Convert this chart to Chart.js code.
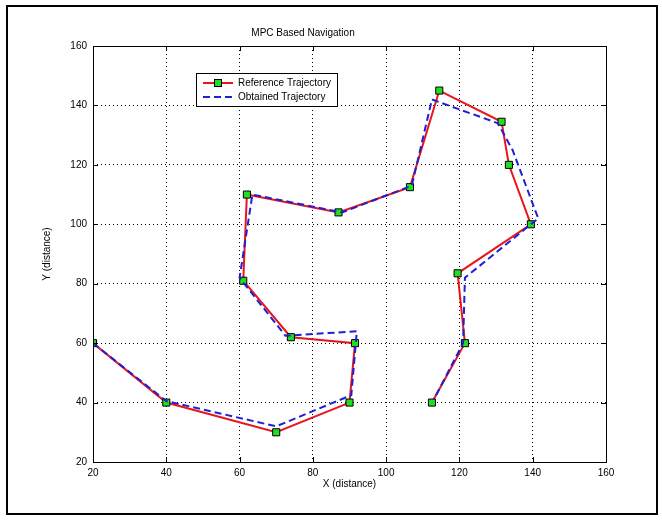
<!DOCTYPE html>
<html>
<head>
<meta charset="utf-8">
<script src="https://cdn.jsdelivr.net/npm/chart.js@4"></script>
<style>
  html, body { margin: 0; padding: 0; background: #fff; }
</style>
</head>
<body>
<canvas id="chart" width="662" height="520"></canvas>
<script>
// reference trajectory (waypoints)
const refX = [20, 40, 70, 90, 91.5, 74, 61, 62, 87, 106.5, 114.5, 131.5, 133.5, 139.5, 119.5, 121.5, 112.5];
const refY = [60, 40, 30, 40, 60, 62, 81, 110, 104, 112.5, 145, 134.5, 120, 100, 83.5, 60, 40];

// obtained trajectory
const obtX = [20, 40, 70, 90.5, 92, 72.5, 60, 63.5, 88, 107, 112.5, 130.5, 134.5, 141.5, 121.5, 121, 113];
const obtY = [60, 40.5, 32, 42.5, 64, 62.5, 82, 110, 104, 113, 142, 134, 125, 102, 82, 60, 41];

const xTicks = [20, 40, 60, 80, 100, 120, 140, 160];
const yTicks = [20, 40, 60, 80, 100, 120, 140, 160];

const seriesNames = ['Reference Trajectory', 'Obtained Trajectory'];

const toPts = (xs, ys) => xs.map((x, i) => ({x: x, y: ys[i]}));

const RED = '#e8161b';
const BLUE = '#1f1fd6';
const GREEN = '#22dd22';
const FONT = '"Liberation Sans", Arial, sans-serif';

const matlabFrame = {
  id: 'matlabFrame',
  afterDatasetsDraw(chart) {
    const {ctx, chartArea: a, scales} = chart;
    ctx.save();
    ctx.strokeStyle = '#000';
    ctx.lineWidth = 1;
    // axes box
    ctx.strokeRect(Math.round(a.left) + 0.5, Math.round(a.top) + 0.5,
      Math.round(a.right - a.left), Math.round(a.bottom - a.top));
    // inward tick marks
    ctx.beginPath();
    xTicks.forEach(v => {
      const px = Math.round(scales.x.getPixelForValue(v)) + 0.5;
      ctx.moveTo(px, a.bottom); ctx.lineTo(px, a.bottom - 5);
      ctx.moveTo(px, a.top); ctx.lineTo(px, a.top + 5);
    });
    yTicks.forEach(v => {
      const py = Math.round(scales.y.getPixelForValue(v)) + 0.5;
      ctx.moveTo(a.left, py); ctx.lineTo(a.left + 5, py);
      ctx.moveTo(a.right, py); ctx.lineTo(a.right - 5, py);
    });
    ctx.stroke();

    // legend box
    const lx = 196, ly = 73, lw = 141, lh = 33;
    ctx.fillStyle = '#fff';
    ctx.fillRect(lx, ly, lw, lh);
    ctx.strokeRect(lx + 0.5, ly + 0.5, lw, lh);
    const ds = chart.data.datasets;
    ctx.font = '10px ' + FONT;
    ctx.textBaseline = 'middle';
    ds.forEach((d, i) => {
      const y = ly + 10 + i * 14;
      ctx.save();
      ctx.strokeStyle = d.borderColor;
      ctx.lineWidth = 2;
      ctx.setLineDash(d.borderDash || []);
      ctx.beginPath();
      ctx.moveTo(lx + 7, y); ctx.lineTo(lx + 37, y);
      ctx.stroke();
      ctx.restore();
      if (d.pointRadius > 0) {
        ctx.fillStyle = GREEN;
        ctx.fillRect(lx + 18.5, y - 3.5, 7, 7);
        ctx.strokeStyle = '#000';
        ctx.strokeRect(lx + 18.5, y - 3.5, 7, 7);
      }
      ctx.fillStyle = '#000';
      ctx.fillText(d.label, lx + 42, y);
    });

    // outer figure frame
    ctx.lineWidth = 2;
    ctx.strokeRect(7, 6, 650, 508);
    ctx.restore();
  }
};

new Chart(document.getElementById('chart'), {
  type: 'scatter',
  data: {
    datasets: [{
      label: seriesNames[0],
      data: toPts(refX, refY),
      showLine: true,
      borderColor: RED,
      borderWidth: 2,
      pointStyle: 'rect',
      pointRadius: 5,
      pointBackgroundColor: GREEN,
      pointBorderColor: '#000',
      pointBorderWidth: 1,
      order: 2
    }, {
      label: seriesNames[1],
      data: toPts(obtX, obtY),
      showLine: true,
      borderColor: BLUE,
      borderWidth: 2,
      borderDash: [7, 4],
      pointRadius: 0,
      order: 1
    }]
  },
  options: {
    responsive: false,
    animation: false,
    layout: { padding: { left: 0, right: 56, top: 0, bottom: 0 } },
    plugins: {
      legend: { display: false },
      tooltip: { enabled: false },
      title: {
        display: true,
        text: 'MPC Based Navigation',
        color: '#000',
        font: { family: FONT, size: 10, weight: 'normal' },
        padding: { top: 27, bottom: 7 }
      }
    },
    scales: {
      x: {
        type: 'linear',
        min: 20, max: 160,
        afterBuildTicks: s => { s.ticks = xTicks.map(v => ({value: v})); },
        afterFit: s => { s.height = 58; },
        border: { display: false, dash: [1, 3] },
        grid: { color: '#000', lineWidth: 1, drawTicks: false },
        ticks: { color: '#000', padding: 5, font: { family: FONT, size: 10 } },
        title: {
          display: true, text: 'X (distance)', color: '#000',
          font: { family: FONT, size: 10 },
          padding: { top: 0, bottom: 30 }
        }
      },
      y: {
        type: 'linear',
        min: 20, max: 160,
        afterBuildTicks: s => { s.ticks = yTicks.map(v => ({value: v})); },
        afterFit: s => { s.width = 93; },
        border: { display: false, dash: [1, 3] },
        grid: { color: '#000', lineWidth: 1, drawTicks: false },
        ticks: { color: '#000', padding: 6, font: { family: FONT, size: 10 } },
        title: {
          display: true, text: 'Y (distance)', color: '#000',
          font: { family: FONT, size: 10 },
          padding: { top: 41, bottom: 0 }
        }
      }
    }
  },
  plugins: [matlabFrame]
});
</script>
</body>
</html>
